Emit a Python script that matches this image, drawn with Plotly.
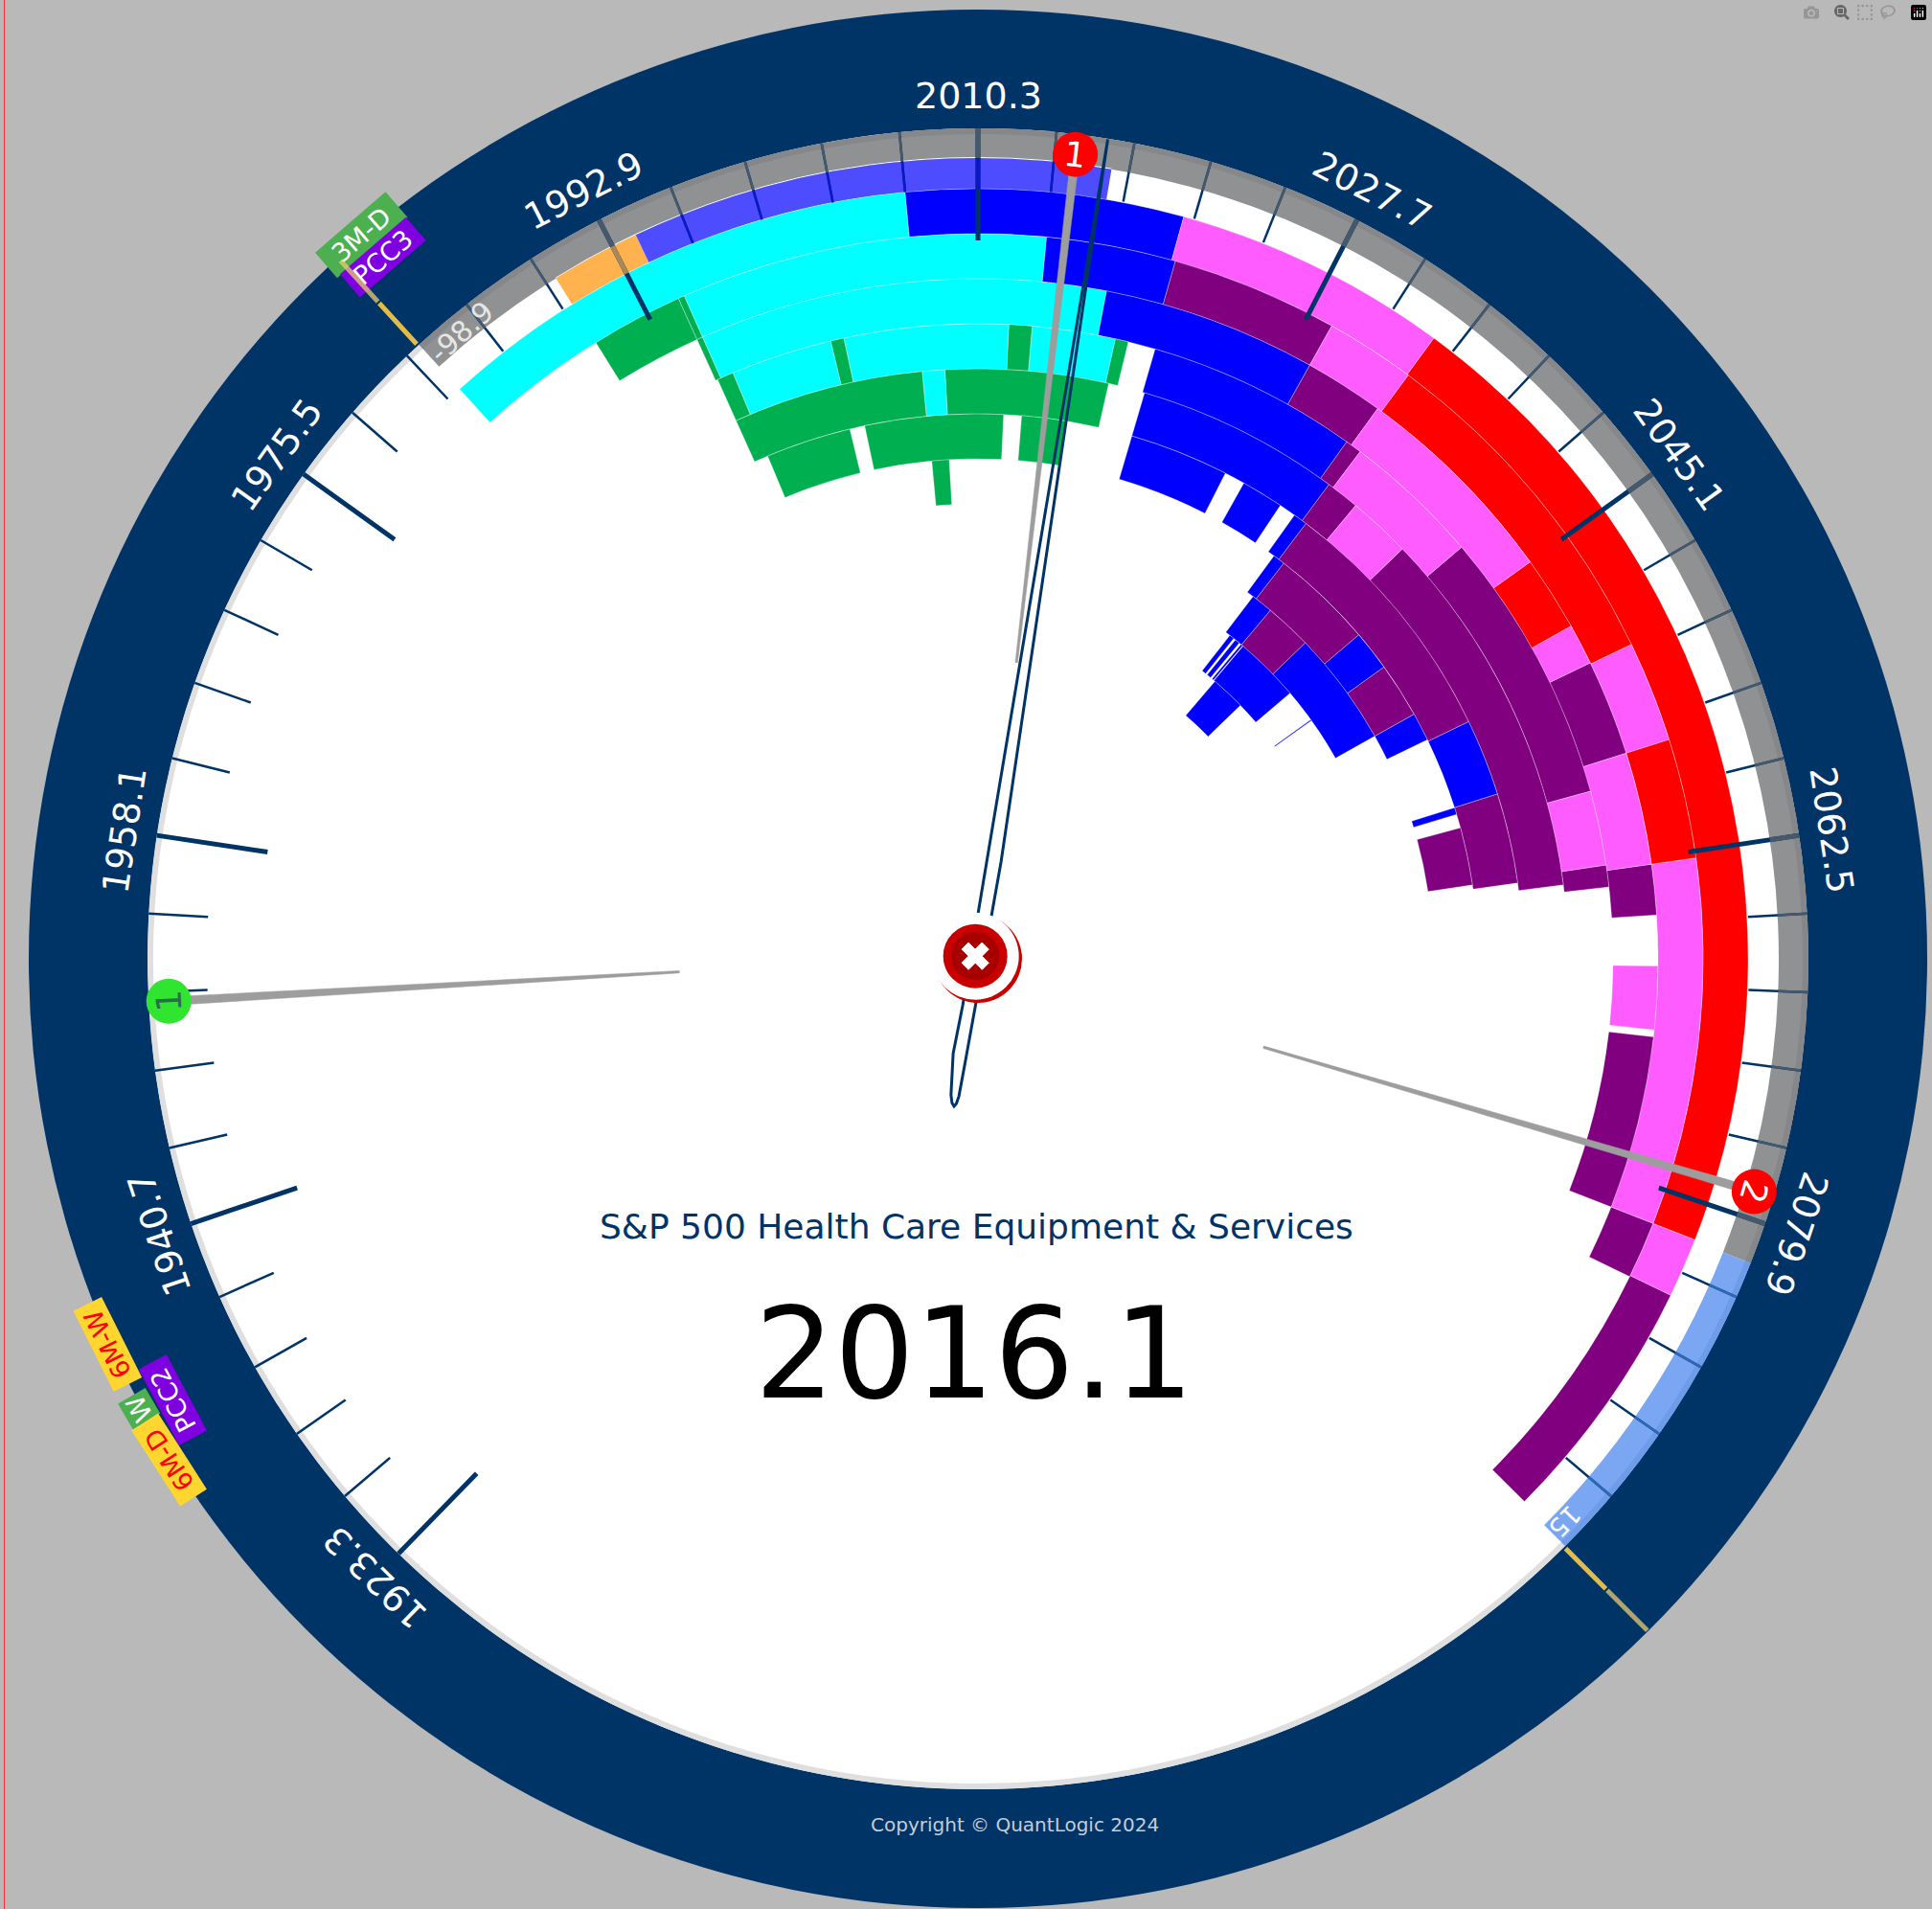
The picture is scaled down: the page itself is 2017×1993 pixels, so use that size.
import math
import plotly.graph_objects as go

W, H = 2017, 1993
CX, CY = 1021, 1001
R_OUT = 991

NAVY = "#003366"
COLORS = {"C": "#00ffff", "G": "#00b050", "B": "#0000ff", "P": "#800080", "M": "#ff5cff", "R": "#ff0000"}

# bars by ring: (start angle, end angle, colour code); ring 0 is the outermost
ring_0 = [(-42.3, -5.43, "C"), (-5.43, 15.5, "B"), (15.5, 36.3, "M"), (36.3, 111.4, "R"), (111.4, 115.9, "M"), (115.9, 134.8, "P")]
ring_1 = [(-31.8, -24.4, "G"), (-24.4, -23.9, "G"), (-23.9, 5.43, "C"), (5.43, 15.8, "B"), (15.8, 29.2, "P"), (29.2, 36.4, "M"),
          (36.4, 64.3, "R"), (64.3, 72.4, "M"), (72.4, 82, "R"), (82, 111.4, "M"), (111.4, 116, "P")]
ring_2 = [(-24.4, -23.9, "G"), (-23.9, 10.9, "C"), (10.9, 29.2, "B"), (29.2, 36, "P"), (36, 54.3, "M"), (54.3, 60.7, "R"),
          (60.7, 64.2, "M"), (64.2, 72.4, "P"), (72.4, 82, "M"), (82, 86.3, "P"), (90.6, 96, "M"), (96.6, 111.4, "P")]
ring_3 = [(-24.2, -22.7, "G"), (-22.7, -13.4, "C"), (-13.4, -12.2, "G"), (-12.2, 2.8, "C"), (2.8, 4.9, "G"), (4.9, 12.5, "C"),
          (12.5, 13.7, "G"), (16.2, 35.5, "B"), (35.5, 37, "P"), (37, 49.6, "M"), (49.6, 74.7, "P"), (74.7, 81.5, "M"), (81.5, 83.5, "P")]
ring_4 = [(-24.2, -5.43, "G"), (-5.43, -3.2, "C"), (-3.2, 12.8, "G"), (16.4, 36.5, "B"), (36.5, 39.8, "P"), (39.8, 46, "M"), (46, 82.8, "P")]
ring_5 = [(-22.7, -13.6, "G"), (-12, 2.7, "G"), (4.6, 9.4, "G"), (16.4, 27, "B"), (29.2, 33.7, "B"), (35.5, 37, "B"), (37, 64.2, "P"),
          (64.2, 72.4, "B"), (72.4, 82, "P")]
ring_6 = [(-5.3, -3.3, "G"), (36.3, 37.7, "B"), (37.7, 49.6, "P"), (39.4, 39.8, "B"), (49.6, 54.3, "B"), (54.3, 60.7, "P"), (60.7, 64, "B"),
          (72.4, 73.2, "B"), (74.8, 81.5, "P")]
ring_7 = [(37.2, 40, "B"), (40, 46, "P"), (46, 60.7, "B")]
ring_8 = [(37.9, 38.6, "B"), (38.9, 39.6, "B"), (39.9, 40.2, "B"), (40.3, 49.6, "B"), (54.3, 54.45, "B")]
ring_9 = [(40.5, 46, "B")]
rings = [ring_0, ring_1, ring_2, ring_3, ring_4, ring_5, ring_6, ring_7, ring_8, ring_9]
ring_outer_radii = [804, 757, 710, 663, 616, 569, 522, 475, 428, 381]
ring_thickness = 47

# outer bands: (start, end, colour)
inner_band = [(-31.8, -25.3, "#ffb24d"), (-25.3, 9.6, "#4d4dff")]
outer_band = [(-42.3, 111.5, "#8f9193"), (111.5, 135, "#7ba7f2")]

# axis
tick_start_angle = -135.75
tick_step = 5.43
tick_count = 50
major_every = 5
major_labels = ["1923.3", "1940.7", "1958.1", "1975.5", "1992.9", "2010.3", "2027.7", "2045.1", "2062.5", "2079.9"]

# needle, as (radius, angle)
needle_r = [866, 101, 51.5, 102, 145, 153, 156, 153, 145, 107, 51, 104, 866]
needle_t = [9.0, 5.1, 198.1, 194.7, 191.2, 190.2, 189.2, 188.5, 187.9, 187, 183.4, 13.4, 9.0]

# signal pointers: angle at marker, angle at inner end, marker colour, label, label colour
pointer_names = ["1", "2", "1"]
pointer_outer_t = [6.9, 106.7, -93.0]
pointer_inner_t = [7.4, 107.2, -92.5]
pointer_colors = ["#ff0000", "#ff0000", "#2fe52f"]
pointer_text = ["white", "white", "#2d6a4f"]
pointer_r_outer = 846
pointer_r_inner = 312

# flags: label, radius, angle, rotation, w, h, background, text colour
flags = [
    ("3M-D", 993, -40.4, -40.8, 96, 34, "#4caf50", "white"),
    ("PCC3", 960, -40.3, -40.8, 90, 31, "#7f00e0", "white"),
    ("W", 994, -118.2, -120, 30, 32, "#4caf50", "white"),
    ("PCC2", 959, -118.7, -118, 89, 32, "#7f00e0", "white"),
    ("6M-W", 994, -113.9, -116.6, 93, 32, "#ffd530", "#ff0000"),
    ("6M-D", 993, -121.8, -122.7, 93, 32, "#ffd530", "#ff0000"),
]
flag_poles = [(-42.4, 867, 987), (135.1, 867, 990)]


def px(r, t):
    a = math.radians(t)
    return (CX + r * math.sin(a)) / W, 1 - (CY - r * math.cos(a)) / H


fig = go.Figure()


def bars(r0, r1, spans, color, line=False):
    fig.add_trace(go.Barpolar(
        r=[r1 - r0] * len(spans), base=[r0] * len(spans),
        theta=[(a + b) / 2 for a, b in spans], width=[b - a for a, b in spans],
        marker=dict(color=color, line=dict(color="rgba(255,255,255,0.45)" if line else color, width=0.7 if line else 0)),
        hoverinfo="skip", showlegend=False))


# white disc and its soft edge
bars(0, 867, [(-180, 0), (0, 180)], "#ffffff")
bars(861, 867, [(135, 317.7)], "#dfdfdf")

for a, b, c in outer_band:
    bars(836, 867, [(a, b)], c)
bars(861, 867, [(-42.3, 111.5)], "#85878a")
bars(861, 867, [(111.5, 135)], "#6f9ce8")
for a, b, c in inner_band:
    bars(837, 836, [(a, b)], "#ffffff")
    bars(804, 836, [(a, b)], c)

for ring, outer in zip(rings, ring_outer_radii):
    for code in COLORS:
        spans = [(a, b) for a, b, c in ring if c == code]
        if spans:
            bars(outer - ring_thickness, outer, spans, COLORS[code], line=True)


def segs(items, color, width):
    rs, ts = [], []
    for t, r0, r1 in items:
        rs += [r0, r1, None]
        ts += [t, t, None]
    if rs:
        fig.add_trace(go.Scatterpolar(r=rs, theta=ts, mode="lines", line=dict(color=color, width=width),
                                      hoverinfo="skip", showlegend=False))


angles = [tick_start_angle + i * tick_step for i in range(tick_count)]
for major in (False, True):
    idx = [i for i in range(tick_count) if (i % major_every == 0) == major]
    w = 5 if major else 2.5
    inner = 750 if major else 805
    ts = [angles[i] for i in idx]
    segs([(t, inner, 867) for t in ts], NAVY, w)
    segs([(t, 836, 867) for t in ts if -42.3 <= t < 111.5], "#45586c", w)
    segs([(t, 836, 867) for t in ts if 111.5 <= t <= 135], "#2f68b8", w)
    segs([(t, 804, 836) for t in ts if -25.3 <= t <= 9.6], "#0b18c8", w)
    segs([(t, 804, 836) for t in ts if -31.8 <= t < -25.3], "#a8875a", w)

# flag poles are added as annotations further down, so they lie over the flags

# needle
fig.add_trace(go.Scatterpolar(r=needle_r, theta=needle_t, mode="lines",
                              line=dict(color=NAVY, width=3), hoverinfo="skip", showlegend=False))

# tapered pointers
for t0, t1 in zip(pointer_outer_t, pointer_inner_t):
    h0 = math.degrees(math.atan(4.5 / pointer_r_outer))
    h1 = math.degrees(math.atan(1.2 / pointer_r_inner))
    fig.add_trace(go.Scatterpolar(
        r=[pointer_r_outer, pointer_r_outer, pointer_r_inner, pointer_r_inner, pointer_r_outer],
        theta=[t0 - h0, t0 + h0, t1 + h1, t1 - h1, t0 - h0],
        mode="lines", fill="toself", fillcolor="#9d9d9d", line=dict(color="#9d9d9d", width=0.5),
        hoverinfo="skip", showlegend=False))
fig.add_trace(go.Scatterpolar(r=[pointer_r_outer] * 3, theta=pointer_outer_t, mode="markers",
                              marker=dict(size=47, color=pointer_colors, line=dict(width=0)),
                              hoverinfo="skip", showlegend=False))

# centre button
fig.add_trace(go.Scatterpolar(r=[0], theta=[0], mode="markers", marker=dict(size=92, color="#c80000", line=dict(width=0)),
                              hoverinfo="skip", showlegend=False))
fig.add_trace(go.Scatterpolar(r=[4], theta=[-45], mode="markers", marker=dict(size=91, color="#ffffff", line=dict(width=0)),
                              hoverinfo="skip", showlegend=False))
fig.add_trace(go.Scatterpolar(r=[4], theta=[-45], mode="markers", marker=dict(size=67, color="#c80000", line=dict(width=0)),
                              hoverinfo="skip", showlegend=False))
fig.add_trace(go.Scatterpolar(r=[4], theta=[-45], mode="markers", marker=dict(size=50, color="#a80000", line=dict(width=0)),
                              hoverinfo="skip", showlegend=False))
fig.add_trace(go.Scatterpolar(r=[4], theta=[-45], mode="markers",
                              marker=dict(size=25, color="#ffffff", symbol="x", line=dict(width=1, color="#ffffff")),
                              hoverinfo="skip", showlegend=False))

ann = []


def label(text, r, t, rot, size, color, **kw):
    x, y = px(r, t)
    ann.append(dict(text=text, x=x, y=y, xref="paper", yref="paper", xanchor="center", yanchor="middle",
                    textangle=rot, showarrow=False, font=dict(family="DejaVu Sans", size=size, color=color), **kw))


for i, txt in enumerate(major_labels):
    t = tick_start_angle + i * major_every * tick_step
    label(txt, 901, t, t, 38, "white")
label("-98.9", 848, -39.5, -42, 30, "#e6e6e6")
label("15", 848, 133.8, 134, 27, "white")

for name, r, t, rot, w, h, bg, fg in flags:
    label(name, r, t, rot, 27, fg, bgcolor=bg, width=w, height=h, borderpad=0, align="center", valign="middle")

# poles, over the flags
for t, r0, r1 in flag_poles:
    x0, y0 = px(r0, t)
    xm, ym = px((r0 + r1) / 2, t)
    x1, y1 = px(r1, t)
    for (a, b, c, d, col) in ((x0, y0, xm, ym, "rgba(240,195,70,0.95)"), (xm, ym, x1, y1, "rgba(235,205,110,0.75)")):
        ann.append(dict(text="", x=c, y=d, xref="paper", yref="paper", axref="pixel", ayref="pixel",
                        ax=(a - c) * W, ay=-(b - d) * H, showarrow=True, arrowhead=0, arrowwidth=5, arrowcolor=col, standoff=0))

for name, t, c in zip(pointer_names, pointer_outer_t, pointer_text):
    label(name, pointer_r_outer, t, t, 36, c)

ann.append(dict(text="S&amp;P 500 Health Care Equipment &amp; Services", x=1020 / W, y=1 - 1280 / H, xref="paper", yref="paper",
                showarrow=False, font=dict(family="DejaVu Sans", size=36, color=NAVY)))
ann.append(dict(text="2016.1", x=1017 / W, y=1 - 1492 / H, xref="paper", yref="paper",
                showarrow=False, font=dict(family="DejaVu Sans", size=131, color="#000000")))
ann.append(dict(text="Copyright © QuantLogic 2024", x=1059 / W, y=1 - 1919 / H, xref="paper", yref="paper",
                showarrow=False, font=dict(family="DejaVu Sans", size=20, color="#c5ccd4")))

fig.update_layout(
    width=W, height=H, margin=dict(l=0, r=0, t=0, b=0), paper_bgcolor="#b9b9b9", showlegend=False,
    annotations=ann,
    shapes=[dict(type="line", xref="paper", yref="paper", x0=4.5 / W, x1=4.5 / W, y0=0, y1=1, line=dict(color="#ff3030", width=1))],
    polar=dict(
        domain=dict(x=[(CX - R_OUT) / W, (CX + R_OUT) / W], y=[1 - (CY + R_OUT) / H, 1 - (CY - R_OUT) / H]),
        bgcolor=NAVY, barmode="overlay",
        radialaxis=dict(visible=False, range=[0, R_OUT]),
        angularaxis=dict(visible=False, direction="clockwise", rotation=90, thetaunit="degrees"),
    ),
)
fig.write_html("out.html", post_script="document.body.style.margin='0';document.body.style.overflow='hidden';")
